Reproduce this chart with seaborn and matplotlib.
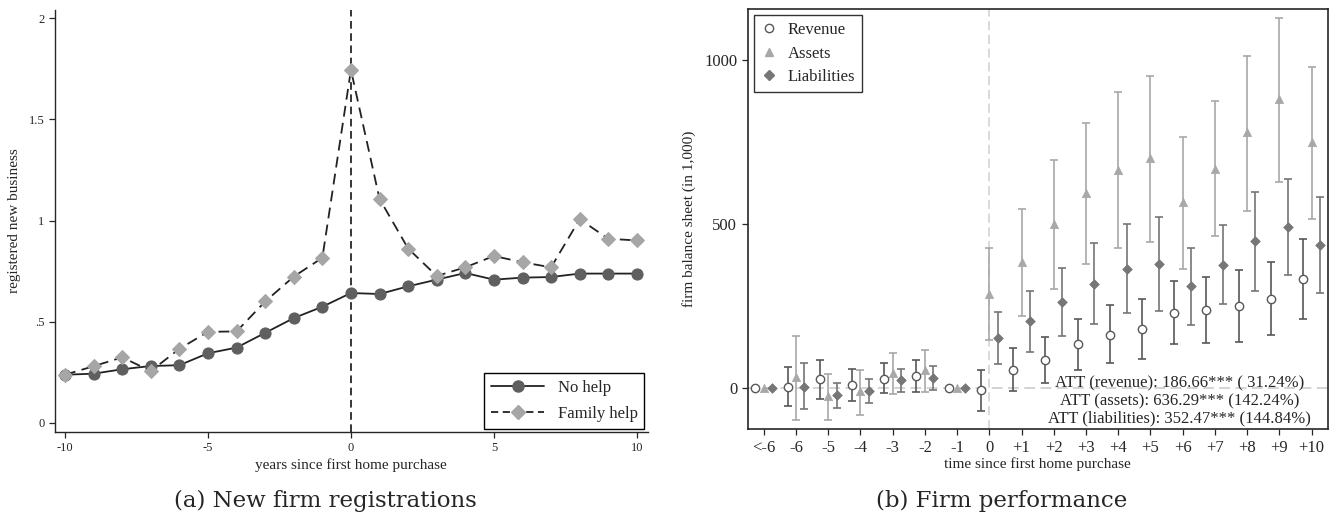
import numpy as np
import pandas as pd
import matplotlib
matplotlib.use("Agg")
import matplotlib.pyplot as plt
import seaborn as sns
from matplotlib.lines import Line2D

# ---------------- data: panel (a) ----------------
years = list(range(-10, 11))
no_help = [0.238, 0.243, 0.265, 0.281, 0.285, 0.344, 0.372, 0.445, 0.518, 0.574, 0.642,
           0.637, 0.675, 0.708, 0.741, 0.708, 0.718, 0.721, 0.738, 0.738, 0.738]
family_help = [0.238, 0.280, 0.324, 0.256, 0.366, 0.450, 0.452, 0.600, 0.723, 0.816, 1.745,
               1.107, 0.862, 0.726, 0.769, 0.825, 0.794, 0.769, 1.007, 0.910, 0.902]

# ---------------- data: panel (b) ----------------
periods = ["<-6", "-6", "-5", "-4", "-3", "-2", "-1", "0", "+1", "+2", "+3", "+4", "+5",
           "+6", "+7", "+8", "+9", "+10"]
rev = [0, 5, 28, 11, 30, 38, 0, -6, 57, 87, 134, 164, 181, 229, 239, 251, 272, 333]
rev_hi = [0, 66, 86, 59, 76, 86, 0, 56, 123, 157, 210, 253, 272, 327, 339, 361, 384, 455]
rev_lo = [0, -54, -31, -37, -15, -10, 0, -69, -8, 16, 56, 76, 88, 134, 139, 142, 162, 210]
ast = [0, 35, -23, -8, 48, 55, 0, 288, 385, 502, 596, 667, 701, 568, 670, 780, 882, 750]
ast_hi = [0, 160, 43, 56, 107, 116, 0, 428, 547, 695, 810, 902, 951, 766, 876, 1012, 1128, 980]
ast_lo = [0, -96, -96, -80, -16, -10, 0, 146, 220, 304, 379, 429, 447, 365, 464, 540, 630, 515]
lia = [0, 5, -21, -8, 24, 32, 0, 153, 204, 263, 318, 365, 378, 311, 377, 448, 492, 438]
lia_hi = [0, 77, 17, 28, 58, 67, 0, 232, 296, 368, 442, 502, 521, 429, 498, 597, 638, 582]
lia_lo = [0, -64, -61, -46, -11, -5, 0, 73, 112, 159, 196, 229, 235, 194, 256, 298, 345, 292]
att_lines = ["ATT (revenue): 186.66*** ( 31.24%)",
             "ATT (assets): 636.29*** (142.24%)",
             "ATT (liabilities): 352.47*** (144.84%)"]

sns.set_style("ticks")
plt.rcParams["font.family"] = ["Liberation Serif", "DejaVu Serif"]

fig = plt.figure(figsize=(13.35, 5.13), dpi=100)
ax1 = fig.add_axes([0.0412, 0.158, 0.444, 0.822])
ax2 = fig.add_axes([0.560, 0.163, 0.4345, 0.820])

# ---------------- panel (a) ----------------
dfa = pd.DataFrame({"year": years * 2,
                    "value": no_help + family_help,
                    "group": ["No help"] * len(years) + ["Family help"] * len(years)})
dark = "#5f5f5f"
light = "#a6a6a6"
ax1.axvline(0, color="black", lw=1.1, ls=(0, (5, 3)), zorder=1)
sns.lineplot(data=dfa[dfa.group == "No help"], x="year", y="value", ax=ax1,
             color="#222222", lw=1.3, marker="o", markersize=8,
             markerfacecolor=dark, markeredgecolor=dark, zorder=3)
sns.lineplot(data=dfa[dfa.group == "Family help"], x="year", y="value", ax=ax1,
             color="#222222", lw=1.3, ls=(0, (6, 3.5)), marker="D", markersize=7.5,
             markerfacecolor=light, markeredgecolor=light, zorder=4)
ax1.set_xlim(-10.35, 10.38)
ax1.set_ylim(-0.045, 2.04)
ax1.set_xticks([-10, -5, 0, 5, 10])
ax1.set_xticklabels(["-10", "-5", "0", "5", "10"])
ax1.set_yticks([0, 0.5, 1, 1.5, 2])
ax1.set_yticklabels(["0", ".5", "1", "1.5", "2"])
ax1.tick_params(labelsize=9, length=4, width=0.9)
for s in ["top", "right"]:
    ax1.spines[s].set_visible(False)
for s in ["left", "bottom"]:
    ax1.spines[s].set_linewidth(1.0)
ax1.set_xlabel("years since first home purchase", fontsize=11, labelpad=3)
ax1.set_ylabel("registered new business", fontsize=11, labelpad=6)
h1 = [Line2D([], [], color="#222222", lw=1.3, marker="o", markersize=8,
             markerfacecolor=dark, markeredgecolor=dark),
      Line2D([], [], color="#222222", lw=1.3, ls=(0, (4, 2.5)), marker="D", markersize=7.5,
             markerfacecolor=light, markeredgecolor=light)]
leg1 = ax1.legend(h1, ["No help", "Family help"], loc="lower right", fontsize=12,
                  frameon=True, fancybox=False, edgecolor="black", framealpha=1,
                  handlelength=3.2, borderaxespad=0.2, labelspacing=0.6)
leg1.get_frame().set_linewidth(1.0)

# ---------------- panel (b) ----------------
pos = np.arange(len(periods))
c_rev = "#585858"
c_ast = "#a8a8a8"
c_lia = "#767676"
ax2.axhline(0, color="#d0d0d0", lw=1.3, ls=(0, (6, 3)), zorder=0)
ax2.axvline(7, color="#d0d0d0", lw=1.1, ls=(0, (6, 3)), zorder=0)
series = [("Revenue", rev, rev_lo, rev_hi, -0.26, c_rev, "o"),
          ("Assets", ast, ast_lo, ast_hi, 0.0, c_ast, "^"),
          ("Liabilities", lia, lia_lo, lia_hi, 0.26, c_lia, "D")]
for name, v, lo, hi, off, col, mk in series:
    x = pos + off
    v = np.array(v, float); lo = np.array(lo, float); hi = np.array(hi, float)
    has = hi != lo
    ax2.errorbar(x[has], v[has], yerr=[v[has] - lo[has], hi[has] - v[has]], fmt="none",
                 ecolor=col, elinewidth=1.2, capsize=3, capthick=1.2, zorder=2)
    d = pd.DataFrame({"x": x, "y": v})
    if mk == "o":
        sns.scatterplot(data=d, x="x", y="y", ax=ax2, marker="o", s=36,
                        facecolor="white", edgecolor=col, linewidth=1.0, zorder=3)
    else:
        sns.scatterplot(data=d, x="x", y="y", ax=ax2, marker=mk, s=36 if mk == "^" else 24,
                        color=col, edgecolor=col, linewidth=0.5, zorder=3)
ax2.set_xlim(-0.5, 17.5)
ax2.set_ylim(-125, 1157)
ax2.set_xticks(pos)
ax2.set_xticklabels(periods)
ax2.set_yticks([0, 500, 1000])
ax2.tick_params(labelsize=12, length=4, width=0.9)
for s in ax2.spines.values():
    s.set_linewidth(1.2)
    s.set_visible(True)
ax2.set_xlabel("time since first home purchase", fontsize=11, labelpad=1)
ax2.set_ylabel("firm balance sheet (in 1,000)", fontsize=11, labelpad=6)
for i, t in enumerate(att_lines):
    ax2.text(12.9, 15 - i * 54, t, ha="center", va="center", fontsize=12, zorder=5)
h2 = [Line2D([], [], ls="none", marker="o", markersize=6, markerfacecolor="white",
             markeredgecolor=c_rev),
      Line2D([], [], ls="none", marker="^", markersize=6, color=c_ast),
      Line2D([], [], ls="none", marker="D", markersize=5, color=c_lia)]
leg2 = ax2.legend(h2, ["Revenue", "Assets", "Liabilities"], loc="upper left", fontsize=12,
                  frameon=True, fancybox=False, edgecolor="#333333", framealpha=1,
                  handlelength=1.0, handletextpad=0.6, borderaxespad=0.4, labelspacing=0.45)
leg2.get_frame().set_linewidth(1.0)

fig.text(0.244, 0.012, "(a) New firm registrations", ha="center", va="baseline",
         fontsize=16.5, family=["DejaVu Serif"])
fig.text(0.7506, 0.012, "(b) Firm performance", ha="center", va="baseline",
         fontsize=16.5, family=["DejaVu Serif"])

fig.savefig("out.png", dpi=100)
